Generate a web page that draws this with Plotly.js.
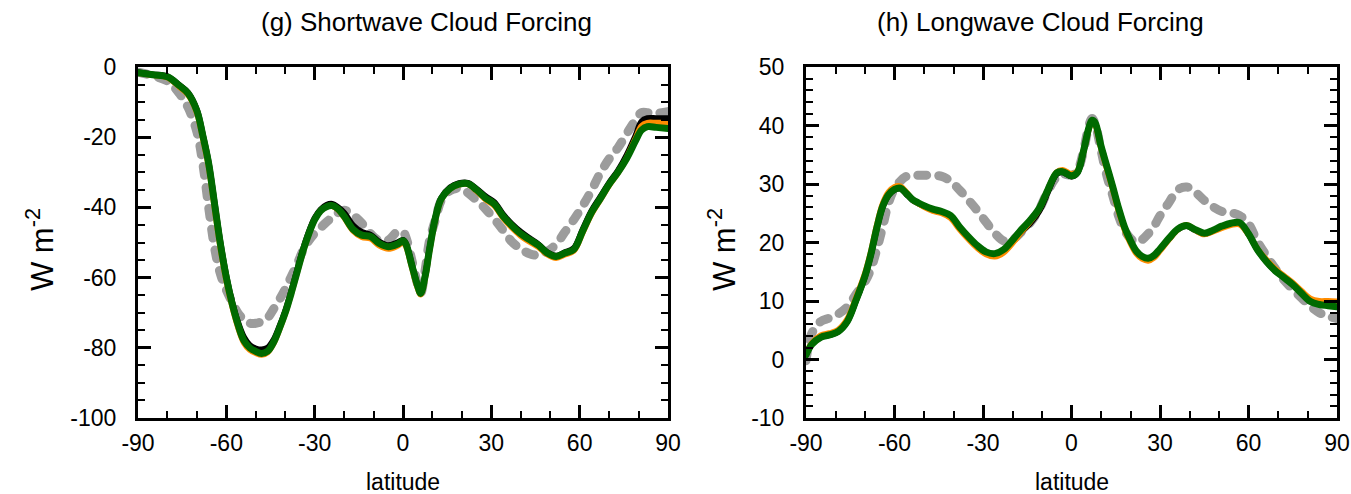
<!DOCTYPE html>
<html>
<head>
<meta charset="utf-8">
<script src="https://cdn.plot.ly/plotly-3.0.1.min.js"></script>
<style>
html,body{margin:0;padding:0;background:#fff;}
#chart{width:1351px;height:494px;}
path.js-line{stroke-linecap:round;}
</style>
</head>
<body>
<div id="chart"></div>
<script>
// ---------- Panel (g) Shortwave Cloud Forcing ----------
const latSW = [-90,-85,-80,-76,-73,-70,-68,-66,-64,-62,-60,-58,-56,-54,-52,-50,-48,-46,-44,-42,-40,-38,-36,-34,-32,-30,-28,-26,-24,-22,-20,-17,-14,-11,-8,-5,-2,0,1,3,5,6,7.5,9,11,13,16,19,22,25,28,31,34,37,40,43,46,49,52,55,58,61,64,67,70,73,76,79,81,83,86,90];
const swGreen = [-1.6,-2.2,-2.8,-5.3,-7.5,-12.5,-19.5,-27.5,-39,-50.5,-60,-67.5,-73.5,-78,-80,-81,-81.6,-81,-78.5,-74.5,-70,-64.5,-58.5,-52.5,-47.5,-43.5,-41,-39.8,-39.5,-40.5,-42.5,-46.2,-47.9,-48.3,-50.3,-51.2,-50.5,-49.5,-50.5,-56.5,-62.5,-64.5,-59.7,-52,-43,-37.5,-34.6,-33.4,-33.2,-35,-37.3,-39,-42.5,-45.2,-47.5,-49.2,-50.8,-53,-54,-53,-52,-46.8,-41.5,-37.5,-33.4,-30,-26,-21,-18,-17,-17.2,-17.5];
const swBlack = [-1.5,-2.1,-2.7,-5.1,-7.3,-12.2,-19.2,-27.2,-38.6,-50,-59.5,-67,-72.8,-77,-79.3,-80.2,-80.5,-80,-77.8,-74,-69.5,-64,-58,-52,-47,-43,-40.6,-39.3,-39,-40,-41.5,-45,-47,-47.8,-49.8,-50.8,-50,-49.3,-50.3,-56.3,-62.3,-64.3,-59.5,-51.8,-42.8,-37.3,-34.3,-33.1,-33,-34.7,-36.8,-38.5,-42,-44.8,-47,-48.8,-50.5,-52.8,-53.8,-52.8,-51.6,-46.3,-41,-37,-33,-29.5,-25,-19.5,-15.5,-14.6,-14.6,-14.6];
const swOrange = [-1.7,-2.3,-3,-5.6,-7.9,-13,-20.2,-28.3,-40,-51.5,-60.8,-68.2,-74.2,-78.6,-80.6,-81.5,-82,-81.3,-78.8,-74.8,-70.2,-64.6,-58.6,-52.6,-47.6,-43.5,-41,-39.8,-39.6,-40.7,-42.8,-46.6,-48.4,-48.9,-50.9,-51.8,-51,-50,-51,-57,-63,-64.8,-60,-52.3,-43.3,-37.7,-34.7,-33.5,-33.4,-35.3,-37.7,-39.5,-43,-45.8,-48.1,-49.8,-51.3,-53.4,-54.4,-53.4,-52.4,-47.2,-41.9,-37.8,-33.7,-30.2,-25.8,-20.4,-16.8,-15.9,-15.9,-15.9];
const swGray = [-1.5,-2.5,-4,-7.5,-11.5,-18.5,-27.5,-40,-51.5,-59,-63.5,-67,-70.2,-72,-73,-73,-72.5,-71.5,-69,-66.3,-63.3,-59.8,-56.3,-52.3,-49.5,-47.4,-45.8,-44.2,-42.8,-41.5,-40.8,-42.2,-44.5,-47.5,-49.5,-49.3,-47,-46.9,-48.5,-55,-62,-64.5,-58,-49.5,-43.5,-38,-35.2,-34.6,-35.8,-38,-40.4,-43.3,-46.5,-49.8,-51.8,-53.2,-53.6,-52.5,-50.5,-47,-43.5,-39.6,-35.2,-30.2,-26.2,-23,-19,-15,-13,-13,-13.2,-12.7];

// ---------- Panel (h) Longwave Cloud Forcing ----------
const latLW = [-90,-88,-85,-82,-79,-76,-73,-70,-68,-66,-64,-62,-60,-58,-56,-54,-52,-50,-47,-44,-41,-38,-35,-32,-29,-26,-23,-20,-17,-14,-11,-8,-5,-3,0,2,4,6,7,8,10,12,14,16,18,20,22,24,26,28,30,33,36,39,42,45,48,51,54,57,60,63,66,69,72,75,78,81,84,87,90];
const lwGreen = [0.8,2.6,3.8,4.2,4.8,6.5,10.2,14.3,18,22.5,26.2,28.2,29.1,29.3,28.4,27.4,26.8,26.3,25.7,25.3,24.6,22.7,21,19.5,18.4,18.1,18.8,20.4,22.2,23.8,25.8,29,31.9,32.1,31.4,32,35.5,39.8,40.9,40.5,36.5,33,29.5,25.8,22.6,20.3,18.5,17.6,17.3,17.8,18.9,20.7,22.3,22.9,22.2,21.6,22.1,22.8,23.3,23.4,21.5,18.8,16.8,15.2,14,12.8,11.3,9.9,9.4,9.2,9];
const lwBlack = [0.8,2.6,3.8,4.2,4.8,6.5,10.1,14.2,17.9,22.4,26.1,28.1,29,29.2,28.3,27.3,26.7,26.2,25.6,25.2,24.5,22.6,20.9,19.4,18.3,18,18.6,20.1,21.8,23.3,25.3,28.6,31.7,32,31.3,31.9,35.4,39.7,40.8,40.4,36.4,32.9,29.4,25.7,22.5,20.2,18.4,17.5,17.2,17.7,18.8,20.6,22.2,22.8,22.1,21.5,22,22.7,23.2,23.3,21.4,18.8,16.8,15.2,14.1,12.9,11.5,10.2,9.7,9.6,9.6];
const lwOrange = [0.9,2.8,4.1,4.5,5.1,6.9,10.6,14.7,18.4,22.9,26.6,28.6,29.5,29.6,28.6,27.4,26.7,26.1,25.4,25,24.2,22.3,20.6,19.1,18,17.6,18.3,19.9,21.8,23.6,25.7,29,32,32.4,31.7,32.2,35.5,39.6,40.6,40.2,36.2,32.6,29.1,25.4,22.2,19.9,18.1,17.2,16.9,17.4,18.6,20.5,22.2,23,22.1,21.4,21.9,22.5,23,23.1,21.4,18.9,17.1,15.5,14.3,13.1,11.7,10.4,10,10,9.9];
const lwGray = [-0.2,4.5,6.5,7.1,7.8,9,11.2,13.3,15.5,18.8,22.7,26.8,29.2,30.5,31.3,31.5,31.5,31.5,31.5,31.3,30.5,29,27.3,25.5,23.5,21.6,20.3,20.5,21.8,23.4,25.6,28.8,31.2,31.7,31.5,32.3,35.5,40.2,41.2,40.3,35.8,31.4,28,24.5,22.1,20.7,20,20.5,21.5,22.8,24.6,26.8,29,29.5,28.6,27.2,26.1,25.3,25.1,24.6,23.2,20.2,17.8,15.6,13.6,12,10.5,9.1,8,7.4,7];

const titles = ["(g) Shortwave Cloud Forcing", "(h) Longwave Cloud Forcing"];
const xTickVals = [-90,-60,-30,0,30,60,90];
const xTickText = ["-90","-60","-30","0","30","60","90"];
const swTickVals = [0,-20,-40,-60,-80,-100];
const lwTickVals = [50,40,30,20,10,0,-10];
const xLabel = "latitude";
const yLabel = "W m<sup>-2</sup>";

const FONT = "Liberation Sans, Arial, Helvetica, sans-serif";

function series(x, y, color, width, dash, xa, ya) {
  return {x: x, y: y, type: 'scatter', mode: 'lines', xaxis: xa, yaxis: ya,
    line: {color: color, width: width, dash: dash, shape: 'spline', smoothing: 1},
    hoverinfo: 'skip', showlegend: false};
}
const GRAY = '#9c9c9c', BLACK = '#000000', ORANGE = '#ff8c00', GREEN = '#006a00';
const data = [
  series(latSW, swGray, GRAY, 9, '9px,12px', 'x', 'y'),
  series(latSW, swBlack, BLACK, 6, 'solid', 'x', 'y'),
  series(latSW, swOrange, ORANGE, 6, 'solid', 'x', 'y'),
  series(latSW, swGreen, GREEN, 7, 'solid', 'x', 'y'),
  series(latLW, lwGray, GRAY, 9, '9px,12px', 'x2', 'y2'),
  series(latLW, lwBlack, BLACK, 6, 'solid', 'x2', 'y2'),
  series(latLW, lwOrange, ORANGE, 6, 'solid', 'x2', 'y2'),
  series(latLW, lwGreen, GREEN, 7, 'solid', 'x2', 'y2')
];

function xaxis(dom, anchor) {
  return {domain: dom, anchor: anchor, range: [-90, 90], tickmode: 'array',
    tickvals: xTickVals, ticktext: xTickText,
    ticks: 'inside', ticklen: 13, tickwidth: 3, tickcolor: '#000',
    minor: {tickmode: 'linear', tick0: -90, dtick: 10, ticks: 'inside', ticklen: 7, tickwidth: 2, tickcolor: '#000', showgrid: false},
    showline: true, linewidth: 3, linecolor: '#000', mirror: 'ticks',
    showgrid: false, zeroline: false, fixedrange: true,
    tickfont: {family: FONT, size: 23, color: '#000'}, ticklabelstandoff: 2};
}
function yaxis(dom, anchor, range, vals, minorDtick) {
  return {domain: dom, anchor: anchor, range: range, tickmode: 'array',
    tickvals: vals, ticktext: vals.map(String),
    ticks: 'inside', ticklen: 13, tickwidth: 3, tickcolor: '#000',
    minor: {tickmode: 'linear', tick0: 0, dtick: minorDtick, ticks: 'inside', ticklen: 7, tickwidth: 2, tickcolor: '#000', showgrid: false},
    showline: true, linewidth: 3, linecolor: '#000', mirror: 'ticks',
    showgrid: false, zeroline: false, fixedrange: true,
    tickfont: {family: FONT, size: 23, color: '#000'}, ticklabelstandoff: 14};
}

const yDom = [1 - 418/494, 1 - 67/494];
const xDom1 = [138/1351, 668/1351];
const xDom2 = [806/1351, 1337/1351];

function ann(text, x, y, size, rot) {
  return {text: text, x: x, y: y, xref: 'paper', yref: 'paper', xanchor: 'center', yanchor: 'middle',
    showarrow: false, textangle: rot || 0, font: {family: FONT, size: size, color: '#000'}};
}

const layout = {
  width: 1351, height: 494,
  margin: {l: 0, r: 0, t: 0, b: 0},
  paper_bgcolor: '#fff', plot_bgcolor: '#fff',
  xaxis: xaxis(xDom1, 'y'),
  yaxis: yaxis(yDom, 'x', [-100, 0], swTickVals, 5),
  xaxis2: xaxis(xDom2, 'y2'),
  yaxis2: yaxis(yDom, 'x2', [-10, 50], lwTickVals, 2),
  annotations: [
    ann(titles[0], 426/1351, 1 - 22/494, 26),
    ann(titles[1], 1040/1351, 1 - 22/494, 26),
    ann(xLabel, (xDom1[0]+xDom1[1])/2, 1 - 482/494, 23),
    ann(xLabel, (xDom2[0]+xDom2[1])/2, 1 - 482/494, 23),
    ann(yLabel, 40/1351, 1 - 250/494, 31, -90),
    ann(yLabel, 722/1351, 1 - 250/494, 31, -90)
  ]
};

Plotly.newPlot('chart', data, layout, {staticPlot: true, displayModeBar: false});
</script>
</body>
</html>
